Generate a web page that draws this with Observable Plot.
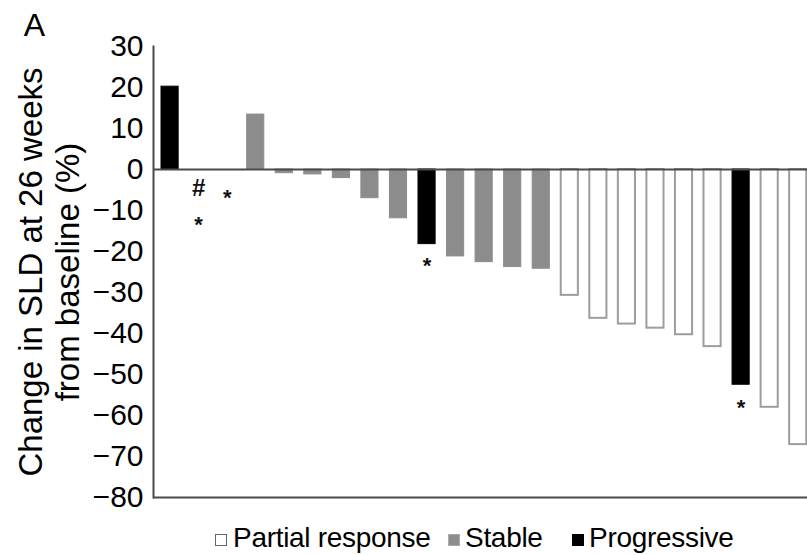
<!DOCTYPE html>
<html>
<head>
<meta charset="utf-8">
<script src="https://cdn.jsdelivr.net/npm/d3@7"></script>
<script src="https://cdn.jsdelivr.net/npm/@observablehq/plot@0.6"></script>
<style>
  body { margin: 0; background: #fff; }
  #chart { position: relative; width: 807px; height: 555px; overflow: hidden; font-family: "Liberation Sans", Arial, sans-serif; }
  #chart svg { display: block; }
  .legend-item { position: absolute; top: 524px; font-size: 28px; line-height: 1; color: #000; white-space: nowrap; letter-spacing: -0.3px; }
  .sw { position: absolute; top: 534px; width: 10px; height: 10px; }
</style>
</head>
<body>
<div id="chart"></div>
<script>
// ---- data ----
const patients = ["1","2","3","4","5","6","7","8","9","10","11","12","13","14","15","16","17","18","19","20","21","22","23"];
const changes = [20.2, 0, 0, 13.4, -0.9, -1.2, -2.1, -7.0, -11.9, -18.2, -21.2, -22.6, -23.8, -24.2, -30.7, -36.3, -37.7, -38.7, -40.3, -43.2, -52.5, -58.0, -67.1];
const responses = ["Progressive","Stable","Stable","Stable","Stable","Stable","Stable","Stable","Stable","Progressive","Stable","Stable","Stable","Stable","Partial response","Partial response","Partial response","Partial response","Partial response","Partial response","Progressive","Partial response","Partial response"];
const categories = ["Partial response", "Stable", "Progressive"];
const fills = ["#ffffff", "#8c8c8c", "#000000"];
const strokes = ["#9d9d9d", "#8c8c8c", "#000000"];
const yTicks = [-80, -70, -60, -50, -40, -30, -20, -10, 0, 10, 20, 30];
const notePatients = ["2", "2", "3", "10", "21"];
const noteValues = [-4.6, -12.0, -5.4, -22.0, -56.8];
const noteTexts = ["#", "*", "*", "*", "*"];

const data = patients.map((p, i) => ({patient: p, change: changes[i], response: responses[i]}));
const notes = notePatients.map((p, i) => ({patient: p, value: noteValues[i], text: noteTexts[i]}));

const barsFor = (k) => Plot.barY(data.filter(d => d.response === categories[k]), {
  x: "patient", y: "change",
  fill: fills[k], stroke: strokes[k], strokeWidth: k === 0 ? 2 : 1
});

const chart = Plot.plot({
  width: 807,
  height: 510,
  marginTop: 46,
  marginBottom: 13,
  marginLeft: 153,
  marginRight: 0,
  style: {fontFamily: '"Liberation Sans", Arial, sans-serif', background: "#fff", color: "#000", overflow: "visible"},
  x: {type: "band", domain: patients, range: [155.3, 812], round: false, paddingInner: 0.4, paddingOuter: 0.2, axis: null},
  y: {domain: [-80, 30], ticks: yTicks, label: null},
  marks: [
    barsFor(0), barsFor(1), barsFor(2),
    Plot.ruleY([0], {stroke: "#4a4a4a", strokeWidth: 2}),
    Plot.ruleY([-80], {stroke: "#4a4a4a", strokeWidth: 2}),
    Plot.frame({anchor: "left", stroke: "#4a4a4a", strokeWidth: 2}),
    Plot.axisY(yTicks, {tickSize: 0, tickPadding: 10, fontSize: 30, letterSpacing: "-1px", tickFormat: d => d < 0 ? "\u2212" + Math.abs(d) : String(d), label: null}),
    Plot.text(notes.filter(d => d.text === "#"), {x: "patient", y: "value", text: "text", fontSize: 24, fontWeight: "bold", fill: "#111"}),
    Plot.text(notes.filter(d => d.text === "*"), {x: "patient", y: "value", text: "text", fontSize: 22, fontWeight: "bold", dy: 6, fill: "#111"}),
    Plot.text(["Change in SLD at 26 weeks\nfrom baseline (%)"], {
      frameAnchor: "left", dx: -105, rotate: -90, fontSize: 33, lineHeight: 1.12,
      textAnchor: "middle", lineAnchor: "middle", fill: "#000"
    }),
    Plot.text(["A"], {frameAnchor: "top-left", dx: -119, dy: -21, fontSize: 32, textAnchor: "middle", lineAnchor: "middle", fill: "#000"})
  ]
});

const root = document.getElementById("chart");
root.appendChild(chart);

const swatchLeft = [215, 448, 572];
const textLeft = [233, 465, 589];
const swatchStyle = [
  {bg: "#ffffff", border: "1.5px solid #666"},
  {bg: "#8c8c8c", border: "1.5px solid #aaa"},
  {bg: "#000000", border: "1.5px solid #000"}
];
categories.forEach((c, i) => {
  const sw = document.createElement("span");
  sw.className = "sw";
  sw.style.left = swatchLeft[i] + "px";
  sw.style.background = swatchStyle[i].bg;
  sw.style.border = swatchStyle[i].border;
  root.appendChild(sw);
  const t = document.createElement("span");
  t.className = "legend-item";
  t.style.left = textLeft[i] + "px";
  t.textContent = c;
  root.appendChild(t);
});
</script>
</body>
</html>
